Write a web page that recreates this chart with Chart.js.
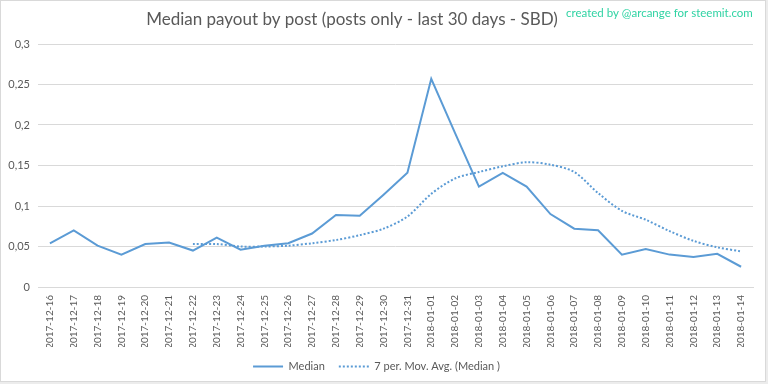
<!DOCTYPE html>
<html>
<head>
<meta charset="utf-8">
<script src="https://cdn.jsdelivr.net/npm/chart.js@4"></script>
<style>
  html, body { margin: 0; padding: 0; background: #fff; }
  #wrap { width: 768px; height: 384px; }
</style>
</head>
<body>
<div id="wrap"><canvas id="chart" width="768" height="384"></canvas></div>
<script>
const days = [
	'2017-12-16','2017-12-17','2017-12-18','2017-12-19','2017-12-20','2017-12-21','2017-12-22',
	'2017-12-23','2017-12-24','2017-12-25','2017-12-26','2017-12-27','2017-12-28','2017-12-29',
	'2017-12-30','2017-12-31','2018-01-01','2018-01-02','2018-01-03','2018-01-04','2018-01-05',
	'2018-01-06','2018-01-07','2018-01-08','2018-01-09','2018-01-10','2018-01-11','2018-01-12',
	'2018-01-13','2018-01-14'
];
const median = [
	0.054, 0.070, 0.051, 0.040, 0.053, 0.055, 0.045, 0.061, 0.046, 0.051,
	0.054, 0.066, 0.089, 0.088, 0.114, 0.141, 0.257, 0.190, 0.124, 0.141,
	0.124, 0.090, 0.072, 0.070, 0.040, 0.047, 0.040, 0.037, 0.041, 0.025
];
const movAvg = [
	null, null, null, null, null, null, 0.053, 0.053, 0.050, 0.050,
	0.051, 0.054, 0.058, 0.064, 0.072, 0.087, 0.115, 0.134, 0.142, 0.149,
	0.154, 0.151, 0.142, 0.116, 0.094, 0.083, 0.069, 0.057, 0.049, 0.044
];
const yTicks = [0, 0.05, 0.1, 0.15, 0.2, 0.25, 0.3];

const titleText = 'Median payout by post (posts only - last 30 days - SBD)';
const creditText = 'created by @arcange for steemit.com';
const FONT = 'Lato, "Open Sans", sans-serif';
const dashes = [[], [2, 2]];

// grey frame of the exported Excel picture
const framePlugin = {
	id: 'frame',
	beforeDraw(chart){
		const c = chart.ctx;
		c.save();
		c.fillStyle = '#ececec';
		c.fillRect(0, 0, chart.width, chart.height);
		c.fillStyle = '#ffffff';
		c.fillRect(1, 1, 764, 380);
		c.strokeStyle = '#d9d9d9';
		c.lineWidth = 1;
		c.strokeRect(0.5, 0.5, 765, 381);
		c.restore();
	}
};

// title and credit line are drawn by hand, Excel puts the title off-centre
const headerPlugin = {
	id: 'header',
	afterDraw(chart){
		const c = chart.ctx;
		c.save();
		c.fillStyle = '#595959';
		c.font = '17px ' + FONT;
		c.textAlign = 'center';
		c.textBaseline = 'middle';
		c.fillText(titleText, 352, 20);
		c.fillStyle = '#2fd3a3';
		c.font = '11.5px ' + FONT;
		c.textAlign = 'left';
		c.fillText(creditText, 566, 13);
		c.restore();
	}
};

const ctx = document.getElementById('chart');

const chart = new Chart(ctx, {
	type: 'line',
	data: {
		labels: days,
		datasets: [
		{
			label: 'Median',
			data: median,
			borderColor: '#5b9bd5',
			backgroundColor: '#5b9bd5',
			borderWidth: 2,
			pointRadius: 0,
			tension: 0
		},
		{
			label: '7 per. Mov. Avg. (Median )',
			data: movAvg,
			borderColor: '#5b9bd5',
			backgroundColor: '#5b9bd5',
			borderWidth: 2,
			borderDash: dashes[1],
			pointRadius: 0,
			tension: 0.3
		}
		]
	},
	options: {
		responsive: false,
		animation: false,
		layout: { padding: { top: 44, right: 15, left: 0, bottom: 2 } },
		plugins: {
			title: { display: false },
			tooltip: { enabled: false },
			legend: {
				position: 'bottom',
				labels: {
					usePointStyle: true,
					pointStyle: 'line',
					pointStyleWidth: 30,
					boxHeight: 6,
					color: '#595959',
					font: { family: FONT, size: 11 },
					padding: 14,
					generateLabels(chart){
						const items = Chart.defaults.plugins.legend.labels.generateLabels(chart);
						items.forEach((it, i) => { it.lineDash = dashes[i]; it.lineWidth = 2; });
						return items;
					}
				}
			}
		},
		scales: {
			x: {
				offset: true,
				grid: { display: false, drawTicks: false },
				border: { display: true, color: '#d9d9d9' },
				ticks: {
					autoSkip: false,
					maxRotation: 90,
					minRotation: 90,
					padding: 8,
					color: '#595959',
					font: { family: FONT, size: 10 }
				},
				afterFit(scale){ scale.height = 60; }
			},
			y: {
				min: 0,
				max: 0.3,
				grid: { color: '#d9d9d9', drawTicks: false },
				border: { display: false },
				afterBuildTicks(scale){
					scale.ticks = yTicks.map(v => ({ value: v }));
				},
				ticks: {
					color: '#595959',
					padding: 8,
					font: { family: FONT, size: 11 },
					callback: function(v){
						return String(Math.round(v * 100) / 100).replace('.', ',');
					}
				},
				afterFit(scale){ scale.width = 38; }
			}
		}
	},
	plugins: [framePlugin, headerPlugin]
});
</script>
</body>
</html>
